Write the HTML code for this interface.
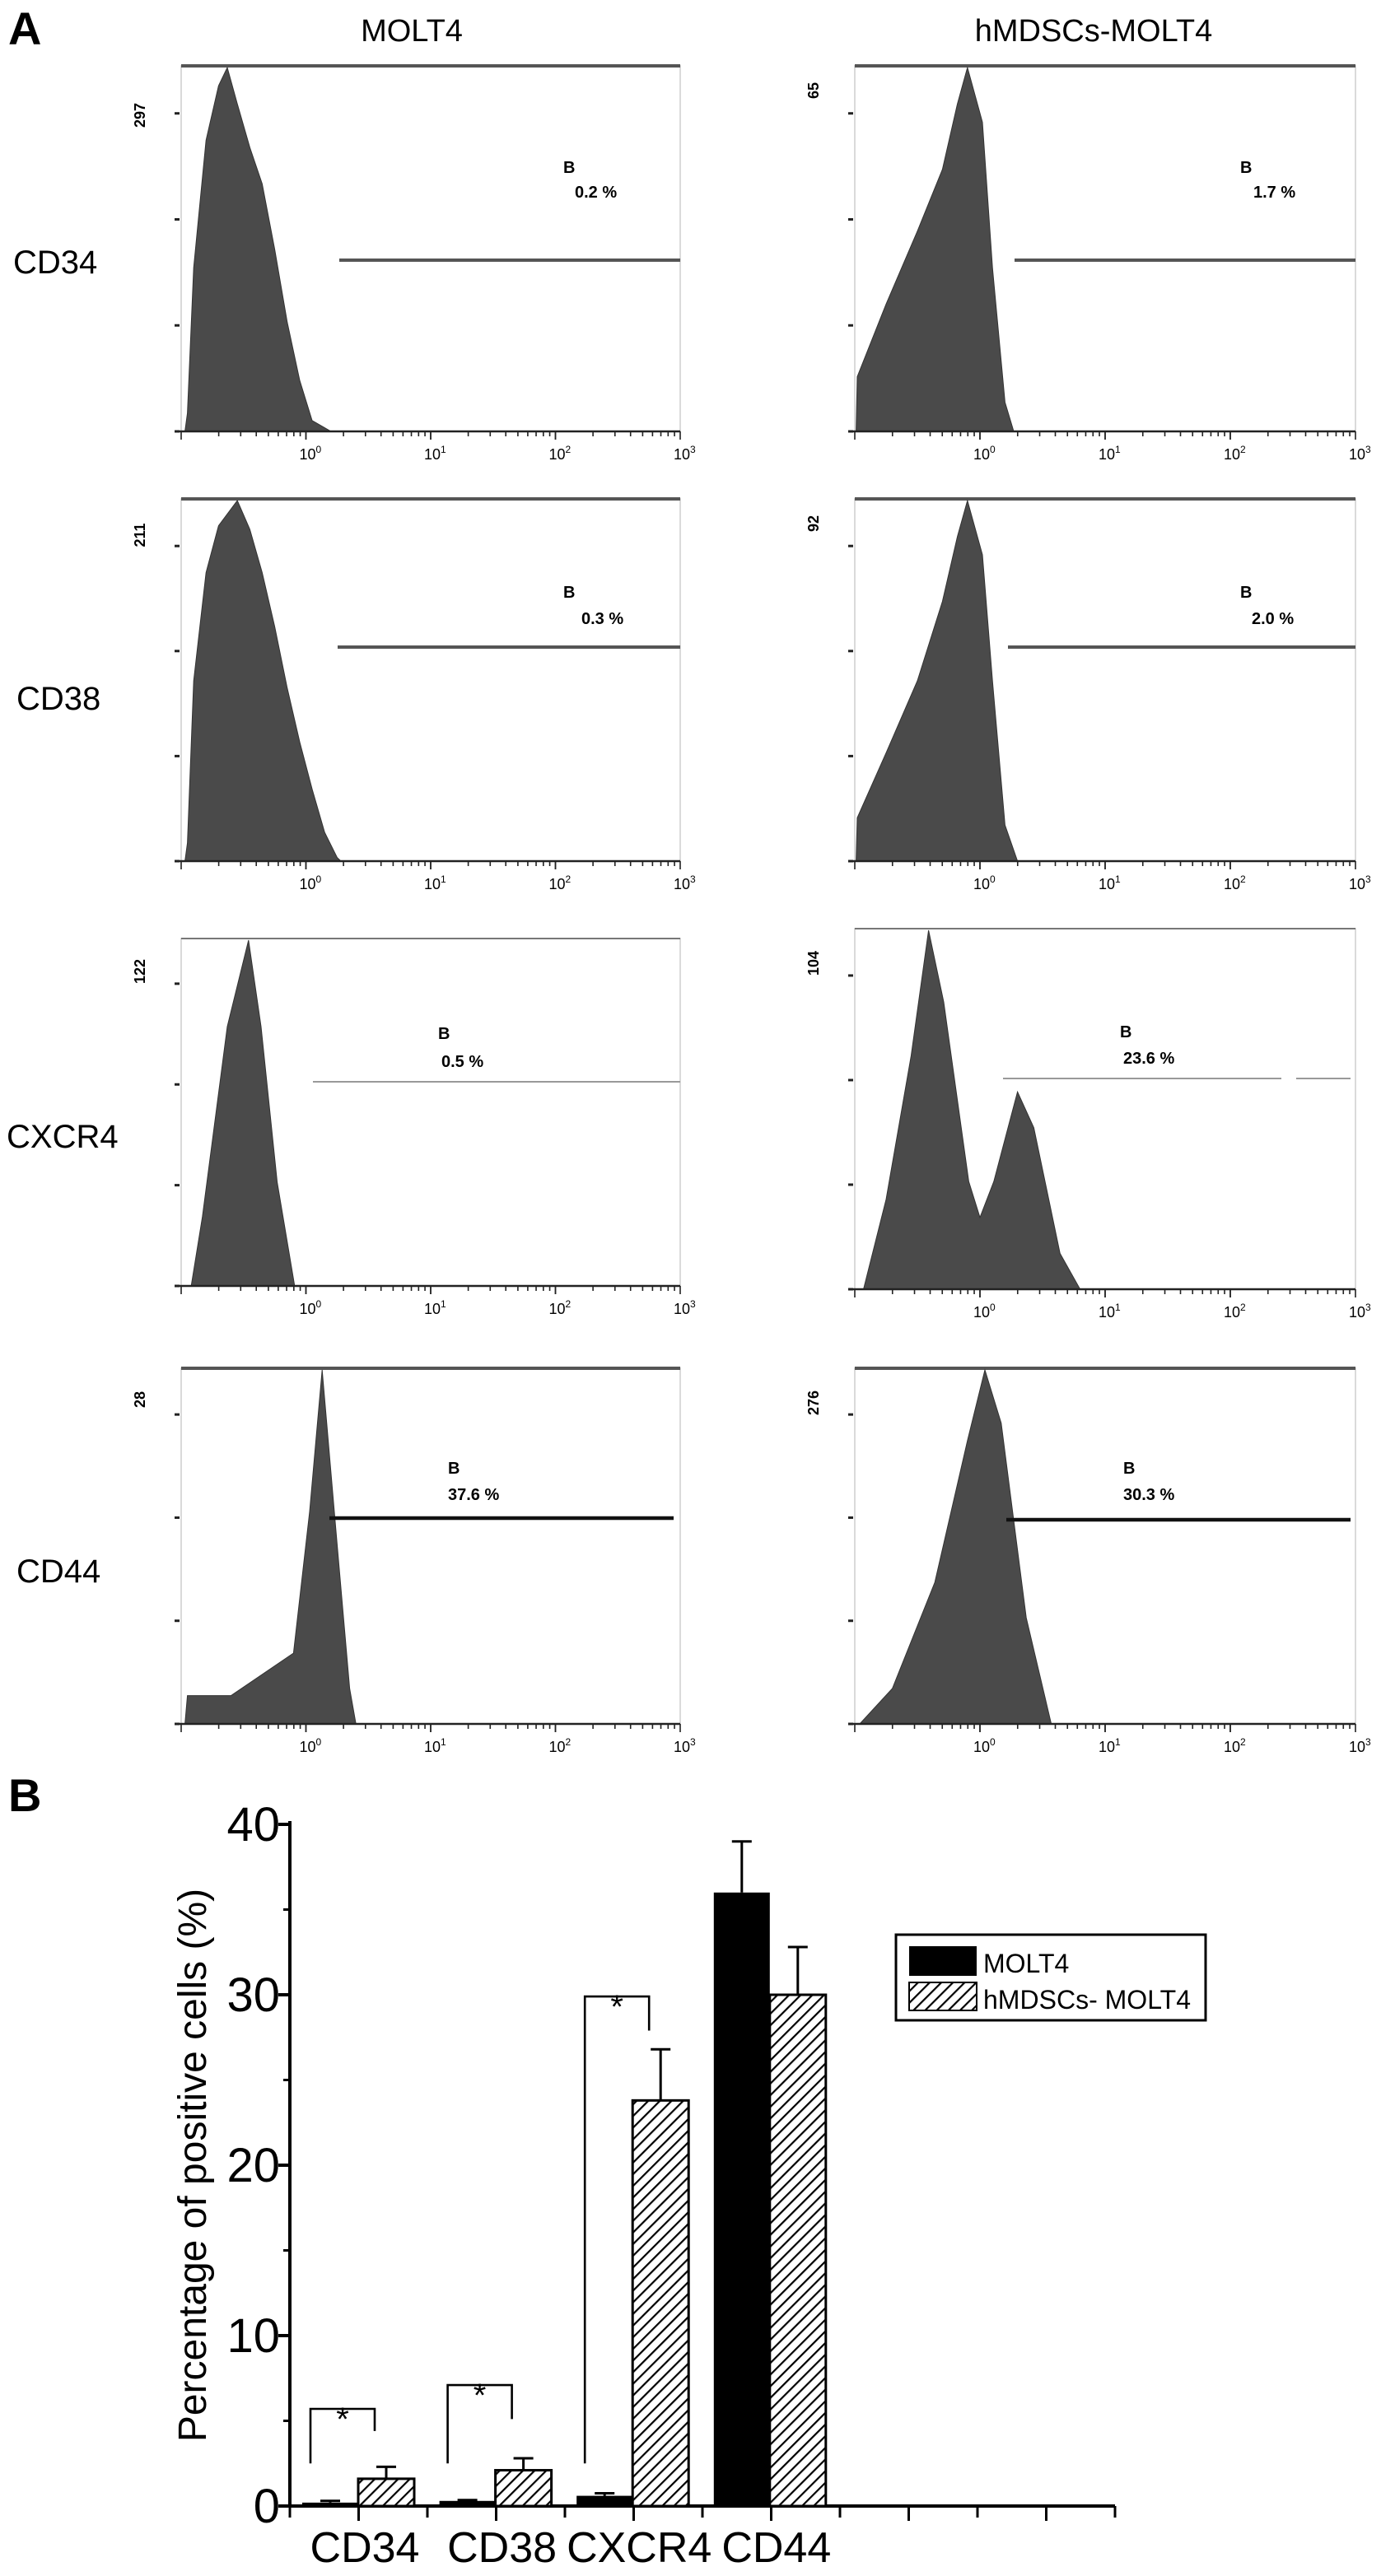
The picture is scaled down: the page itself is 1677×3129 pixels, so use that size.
<!DOCTYPE html>
<html><head><meta charset="utf-8"><title>Flow cytometry figure</title>
<style>
html,body{margin:0;padding:0;background:#fff;}
svg{display:block;font-family:"Liberation Sans",sans-serif;}
</style></head>
<body>
<svg id="fig" xmlns="http://www.w3.org/2000/svg" width="1677" height="3129" viewBox="0 0 838.5 1564.5">
<defs>
<pattern id="hatch" patternUnits="userSpaceOnUse" width="5" height="5" patternTransform="rotate(45)">
<rect width="5" height="5" fill="#fff"/>
<line x1="0" y1="0" x2="0" y2="5" stroke="#000" stroke-width="2.2"/>
</pattern>
</defs>
<rect width="838.5" height="1564.5" fill="#fff"/>
<text x="5" y="27" font-size="28" font-weight="bold">A</text>
<text x="250" y="25" font-size="19" text-anchor="middle">MOLT4</text>
<text x="664" y="25" font-size="19" text-anchor="middle">hMDSCs-MOLT4</text>
<text x="8" y="166" font-size="20">CD34</text>
<text x="10" y="431" font-size="20">CD38</text>
<text x="4" y="697" font-size="20">CXCR4</text>
<text x="10" y="961" font-size="20">CD44</text>
<g id="hists"></g>
<text x="5" y="1100" font-size="28" font-weight="bold">B</text>
<g id="bars"></g>
</svg>
<script>
// ---- Panel A histogram data (log10 fluorescence, fraction of panel max) ----
const histLogs_L34 = [-0.97,-0.95,-0.9,-0.8,-0.7,-0.63,-0.55,-0.45,-0.35,-0.25,-0.15,-0.05,0.05,0.15,0.2];
const histFrac_L34 = [0,0.05,0.45,0.8,0.95,1.0,0.9,0.78,0.68,0.5,0.3,0.14,0.03,0.01,0];
const histLogs_R34 = [-0.99,-0.98,-0.75,-0.5,-0.3,-0.18,-0.1,0.02,0.1,0.2,0.27];
const histFrac_R34 = [0,0.15,0.35,0.55,0.72,0.9,1.0,0.85,0.45,0.08,0];
const histLogs_L38 = [-0.97,-0.95,-0.9,-0.8,-0.7,-0.55,-0.45,-0.35,-0.25,-0.15,-0.05,0.05,0.15,0.25,0.28];
const histFrac_L38 = [0,0.05,0.5,0.8,0.93,1.0,0.92,0.8,0.65,0.48,0.33,0.2,0.08,0.01,0];
const histLogs_R38 = [-0.99,-0.98,-0.75,-0.5,-0.3,-0.18,-0.1,0.02,0.1,0.2,0.3];
const histFrac_R38 = [0,0.12,0.3,0.5,0.72,0.9,1.0,0.85,0.5,0.1,0];
const histLogs_L_CX = [-0.92,-0.83,-0.63,-0.46,-0.36,-0.23,-0.09];
const histFrac_L_CX = [0,0.2,0.75,1.0,0.75,0.3,0];
const histLogs_R_CX = [-0.93,-0.75,-0.55,-0.41,-0.29,-0.09,0,0.11,0.3,0.43,0.64,0.8];
const histFrac_R_CX = [0,0.25,0.65,1.0,0.8,0.3,0.2,0.3,0.55,0.45,0.1,0];
const histLogs_L44 = [-0.97,-0.95,-0.6,-0.1,0.03,0.13,0.24,0.35,0.4];
const histFrac_L44 = [0,0.08,0.08,0.2,0.6,1.0,0.55,0.1,0];
const histLogs_R44 = [-0.96,-0.7,-0.36,-0.1,0.04,0.17,0.37,0.57];
const histFrac_R44 = [0,0.1,0.4,0.8,1.0,0.85,0.3,0];
const yMaxLabels = ["297","65","211","92","122","104","28","276"];
const gatePcts = ["0.2 %","1.7 %","0.3 %","2.0 %","0.5 %","23.6 %","37.6 %","30.3 %"];
const xTickLabels = ["0","1","2","3"];

// ---- Panel B data ----
const categories = ["CD34","CD38","CXCR4","CD44"];
const molt4Values = [0.2,0.3,0.6,36];
const molt4Errors = [0.1,0.05,0.15,3];
const hmdscValues = [1.6,2.1,23.8,30];
const hmdscErrors = [0.7,0.7,3,2.8];
const yTicks = [0,10,20,30,40];
const bracketTop = [5.7,7.1,29.9];
const bracketLeftEnd = [2.5,2.5,2.5];
const bracketRightEnd = [4.4,5.1,27.9];

const NS = "http://www.w3.org/2000/svg";
function mk(tag, attrs, parent){const e=document.createElementNS(NS,tag);for(const k in attrs)e.setAttribute(k,attrs[k]);parent.appendChild(e);return e;}

const hg = document.getElementById('hists');
const panels = [
 {x0:110,x3:413,top:40,bot:262,logs:histLogs_L34,fr:histFrac_L34,gy:158,gx:206,bx:342,by:105,tx:349,ty:120,lab:[88,70],name:"cd34-molt4"},
 {x0:519,x3:823,top:40,bot:262,logs:histLogs_R34,fr:histFrac_R34,gy:158,gx:616,bx:753,by:105,tx:761,ty:120,lab:[497,55],name:"cd34-hmdscs"},
 {x0:110,x3:413,top:303,bot:523,logs:histLogs_L38,fr:histFrac_L38,gy:393,gx:205,bx:342,by:363,tx:353,ty:379,lab:[88,325],name:"cd38-molt4"},
 {x0:519,x3:823,top:303,bot:523,logs:histLogs_R38,fr:histFrac_R38,gy:393,gx:612,bx:753,by:363,tx:760,ty:379,lab:[497,318],name:"cd38-hmdscs"},
 {x0:110,x3:413,top:570,bot:781,logs:histLogs_L_CX,fr:histFrac_L_CX,gy:657,gx:190,bx:266,by:631,tx:268,ty:648,lab:[88,590],name:"cxcr4-molt4",thin:true},
 {x0:519,x3:823,top:564,bot:783,logs:histLogs_R_CX,fr:histFrac_R_CX,gy:655,gx:609,bx:680,by:630,tx:682,ty:646,lab:[497,585],name:"cxcr4-hmdscs",thin:true,gap:true},
 {x0:110,x3:413,top:831,bot:1047,logs:histLogs_L44,fr:histFrac_L44,gy:922,gx:200,gx2:409,bx:272,by:895,tx:272,ty:911,lab:[88,850],name:"cd44-molt4",bold:true},
 {x0:519,x3:823,top:831,bot:1047,logs:histLogs_R44,fr:histFrac_R44,gy:923,gx:611,gx2:820,bx:682,by:895,tx:682,ty:911,lab:[497,852],name:"cd44-hmdscs",bold:true}
];
panels.forEach((p,i)=>{
  const g = mk('g',{},hg);
  
  
  const xs = v => p.x0 + (v+1)/4*(p.x3-p.x0);
  const ys = f => p.bot - f*(p.bot-p.top-1);
  const fr = mk('rect',{x:p.x0,y:p.top,width:p.x3-p.x0,height:p.bot-p.top,fill:'none',stroke:'#d0d0d0','stroke-width':0.8},g);
  
  
  if(!p.thin){const tl=mk('line',{x1:p.x0,y1:p.top,x2:p.x3,y2:p.top,stroke:'#555','stroke-width':2},g);
    }
  else {mk('line',{x1:p.x0,y1:p.top,x2:p.x3,y2:p.top,stroke:'#777','stroke-width':1},g);}
  let pts = p.logs.map((l,j)=>xs(l).toFixed(1)+','+ys(p.fr[j]).toFixed(1));
  pts.unshift(xs(p.logs[0]).toFixed(1)+','+p.bot);
  pts.push(xs(p.logs[p.logs.length-1]).toFixed(1)+','+p.bot);
  const poly = mk('polygon',{points:pts.join(' '),fill:'#4a4a4a',stroke:'#333','stroke-width':0.5},g);
  
  
  const ax = mk('line',{x1:p.x0-3,y1:p.bot,x2:p.x3,y2:p.bot,stroke:'#222','stroke-width':1.2},g);
  
  
  for(let d=-1; d<3; d++){for(let m=1;m<10;m++){
    const v = d+Math.log10(m); const x=xs(v);
    mk('line',{x1:x,y1:p.bot,x2:x,y2:p.bot+(m===1?5:3),stroke:'#222','stroke-width':0.8},g);}}
  xTickLabels.forEach((t,k)=>{
    const x=xs(k);
    mk('line',{x1:x,y1:p.bot,x2:x,y2:p.bot+5,stroke:'#222','stroke-width':0.8},g);
    const tx=mk('text',{x:x-4,y:p.bot+17,'font-size':9},g);
    
    
    tx.textContent='10';
    const sp=mk('tspan',{dy:-4,'font-size':6},tx); sp.textContent=t;
  });
  for(let k=0;k<4;k++){const y=p.bot-k*(p.bot-p.top)*0.29;
    mk('line',{x1:p.x0-4,y1:y,x2:p.x0-1,y2:y,stroke:'#222','stroke-width':1.5},g);}
  const yl = mk('text',{x:p.lab[0],y:p.lab[1],'font-size':9,'font-weight':'bold','text-anchor':'middle',transform:`rotate(-90 ${p.lab[0]} ${p.lab[1]})`},g);
  
  
  yl.textContent=yMaxLabels[i];
  const gx2 = p.gx2 || p.x3;
  const gcol = p.bold ? '#111' : (p.thin ? '#999' : '#555');
  const gw = p.bold ? 2.2 : (p.thin ? 1 : 2);
  if(p.gap){
    mk('line',{x1:p.gx,y1:p.gy,x2:778,y2:p.gy,stroke:gcol,'stroke-width':gw},g);
    mk('line',{x1:787,y1:p.gy,x2:820,y2:p.gy,stroke:gcol,'stroke-width':gw},g);
  } else {
    const gl=mk('line',{x1:p.gx,y1:p.gy,x2:gx2,y2:p.gy,stroke:gcol,'stroke-width':gw},g);
    
    
  }
  const b=mk('text',{x:p.bx,y:p.by,'font-size':10,'font-weight':'bold'},g);
  
  
  b.textContent='B';
  const pc=mk('text',{x:p.tx,y:p.ty,'font-size':10,'font-weight':'bold'},g);
  
  
  pc.textContent=gatePcts[i];
});

// ---- Panel B bar chart ----
const bg = document.getElementById('bars');
const X0=176, X1=677, Y0=1522, Y40=1108;
const yScale = v => Y0 - v/40*(Y0-Y40);
const groupCenter = i => 217.5 + i*83.3;
const barW = 34;
const yax = mk('line',{x1:X0,y1:Y40-2,x2:X0,y2:Y0,stroke:'#000','stroke-width':2},bg);


const xax = mk('line',{x1:X0,y1:Y0,x2:X1,y2:Y0,stroke:'#000','stroke-width':2},bg);


for(let k=0;k<=12;k++){const x=X0+k*(X1-X0)/12;
  mk('line',{x1:x,y1:Y0,x2:x,y2:Y0+(k%2===1?9:7),stroke:'#000','stroke-width':1.5},bg);}
for(let t=5;t<40;t+=10){const y=yScale(t);
  mk('line',{x1:X0-4,y1:y,x2:X0,y2:y,stroke:'#000','stroke-width':1.5},bg);}
yTicks.forEach(t=>{
  const y=yScale(t);
  mk('line',{x1:X0-7,y1:y,x2:X0,y2:y,stroke:'#000','stroke-width':2},bg);
  const tx=mk('text',{x:X0-6,y:y+10,'font-size':29,'text-anchor':'end'},bg);
  
  
  tx.textContent=t;
});
const yt=mk('text',{x:125,y:1315,'font-size':24,'text-anchor':'middle',transform:'rotate(-90 125 1315)'},bg);


yt.textContent='Percentage of positive cells (%)';
categories.forEach((c,i)=>{
  const cx=groupCenter(i);
  const y1=yScale(molt4Values[i]);
  const r1=mk('rect',{x:cx-barW,y:y1,width:barW,height:Y0-y1,fill:'#000'},bg);
  
  
  const e1=yScale(molt4Values[i]+molt4Errors[i]);
  mk('line',{x1:cx-barW/2,y1:y1,x2:cx-barW/2,y2:e1,stroke:'#000','stroke-width':1.5},bg);
  mk('line',{x1:cx-barW/2-6,y1:e1,x2:cx-barW/2+6,y2:e1,stroke:'#000','stroke-width':1.5},bg);
  const y2=yScale(hmdscValues[i]);
  const r2=mk('rect',{x:cx,y:y2,width:barW,height:Y0-y2,fill:'url(#hatch)',stroke:'#000','stroke-width':1.5},bg);
  
  
  const e2=yScale(hmdscValues[i]+hmdscErrors[i]);
  mk('line',{x1:cx+barW/2,y1:y2,x2:cx+barW/2,y2:e2,stroke:'#000','stroke-width':1.5},bg);
  mk('line',{x1:cx+barW/2-6,y1:e2,x2:cx+barW/2+6,y2:e2,stroke:'#000','stroke-width':1.5},bg);
  const lab=mk('text',{x:cx+4,y:1556,'font-size':26,'text-anchor':'middle'},bg);
  
  
  lab.textContent=c;
});
bracketTop.forEach((tv,i)=>{
  const cx=groupCenter(i);
  const xl=cx-29, xr=cx+10;
  const yTop=yScale(tv);
  const br=mk('polyline',{points:`${xl},${yScale(bracketLeftEnd[i])} ${xl},${yTop} ${xr},${yTop} ${xr},${yScale(bracketRightEnd[i])}`,fill:'none',stroke:'#000','stroke-width':1.3},bg);
  
  
  const st=mk('text',{x:(xl+xr)/2,y:yTop+13,'font-size':20,'text-anchor':'middle'},bg);
  
  
  st.textContent='*';
});
const lg=mk('g',{},bg);


mk('rect',{x:544,y:1175,width:188,height:52,fill:'#fff',stroke:'#000','stroke-width':1.5},lg);
const sw1=mk('rect',{x:552,y:1182,width:41,height:18,fill:'#000'},lg);


const sw2=mk('rect',{x:552,y:1204,width:41,height:17,fill:'url(#hatch)',stroke:'#000','stroke-width':1},lg);


const lt1=mk('text',{x:597,y:1198,'font-size':16},lg);


lt1.textContent='MOLT4';
const lt2=mk('text',{x:597,y:1220,'font-size':16,textLength:126,lengthAdjust:'spacingAndGlyphs'},lg);


lt2.textContent='hMDSCs- MOLT4';
</script>
</body></html>
